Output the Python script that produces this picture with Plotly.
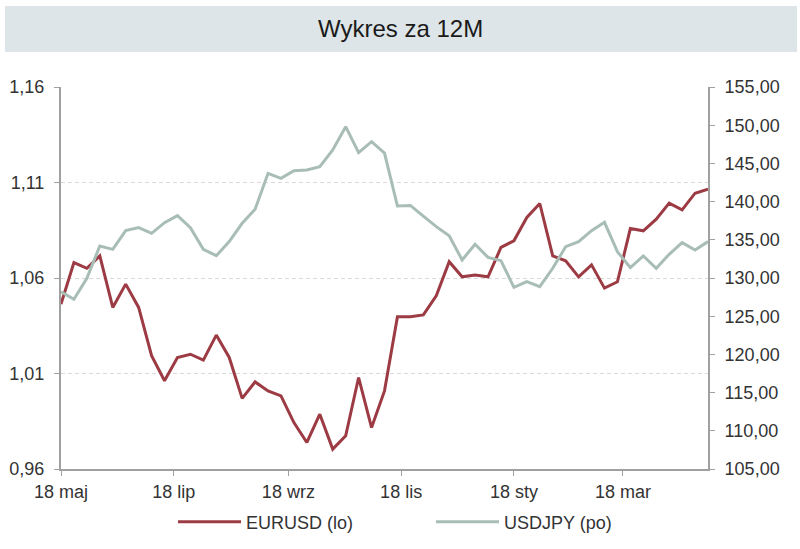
import pandas as pd
import plotly.graph_objects as go

# weekly observations, May 2022 - May 2023
dates = pd.date_range("2022-05-18", periods=51, freq="7D")

eurusd = [1.0463, 1.0681, 1.0651, 1.0716, 1.0446, 1.0568, 1.0446, 1.0193, 1.0062, 1.0184,
          1.0201, 1.0170, 1.0301, 1.0184, 0.9970, 1.0056, 1.0009, 0.9983, 0.9843, 0.9739,
          0.9887, 0.9704, 0.9774, 1.0079, 0.9817, 1.0009, 1.0397, 1.0397, 1.0407, 1.0507,
          1.0685, 1.0606, 1.0615, 1.0606, 1.0760, 1.0795, 1.0917, 1.0990, 1.0716, 1.0690,
          1.0606, 1.0669, 1.0547, 1.0580, 1.0859, 1.0847, 1.0908, 1.0992, 1.0957, 1.1044,
          1.1065]

usdjpy = [128.21, 127.21, 129.96, 134.19, 133.75, 136.20, 136.59, 135.85, 137.24, 138.16,
          136.59, 133.75, 132.92, 134.76, 137.16, 138.99, 143.70, 143.05, 144.05, 144.14,
          144.57, 146.75, 149.81, 146.40, 147.84, 146.35, 139.42, 139.50, 138.10, 136.72,
          135.54, 132.36, 134.41, 132.70, 132.27, 128.78, 129.52, 128.87, 131.27, 134.10,
          134.76, 136.20, 137.29, 133.45, 131.35, 132.88, 131.27, 133.10, 134.62, 133.66,
          134.76]

tick_dates = ["2022-05-18", "2022-07-18", "2022-09-18", "2022-11-18", "2023-01-18", "2023-03-18"]
tick_labels = ["18 maj", "18 lip", "18 wrz", "18 lis", "18 sty", "18 mar"]

title_text = "Wykres za 12M"
names = ["EURUSD (lo)", "USDJPY (po)"]

RED = "#9c3b44"
GRAY = "#a9bdb7"
AXIS = "#a0a0a0"
FONT = "Liberation Sans, Arial, sans-serif"

fig = go.Figure()
fig.add_trace(go.Scatter(x=dates, y=eurusd, name=names[0], mode="lines",
                         line=dict(color=RED, width=3), yaxis="y"))
fig.add_trace(go.Scatter(x=dates, y=usdjpy, name=names[1], mode="lines",
                         line=dict(color=GRAY, width=3), yaxis="y2"))

L, R, T, B = 61, 92, 87, 80
W, H = 800, 549
pw, ph = W - L - R, H - T - B

def px_x(p):
    return (p - L) / pw

def px_y(p):
    return (H - B - p) / ph

fig.add_shape(type="rect", xref="paper", yref="paper",
              x0=px_x(5), x1=px_x(797), y0=px_y(52), y1=px_y(6),
              fillcolor="#dde5e8", line=dict(width=0), layer="below")
fig.add_annotation(text=title_text, xref="paper", yref="paper",
                   x=px_x(400), y=px_y(29), showarrow=False,
                   xanchor="center", yanchor="middle",
                   font=dict(family=FONT, size=24, color="#1a1a1a"))

fig.update_layout(
    width=W, height=H,
    margin=dict(l=L, r=R, t=T, b=B, autoexpand=False),
    paper_bgcolor="white", plot_bgcolor="white",
    separators=", ",
    font=dict(family=FONT, size=18, color="#333333"),
    showlegend=True,
    legend=dict(orientation="h", xref="container", x=(176 - 3) / W, xanchor="left",
                yref="container", y=1 - 522 / H, yanchor="middle",
                font=dict(size=18, color="#333333"), itemwidth=63,
                entrywidth=180, entrywidthmode="pixels", bgcolor="rgba(0,0,0,0)"),
    xaxis=dict(type="date", range=[dates[0], dates[-1]],
               tickvals=tick_dates, ticktext=tick_labels,
               showgrid=False, showline=True, linecolor=AXIS, linewidth=2,
               ticks="outside", ticklen=5, tickcolor=AXIS, tickwidth=1,
               zeroline=False),
    yaxis=dict(range=[0.96, 1.16], tick0=0.96, dtick=0.05, tickformat=".2f",
               showgrid=True, gridcolor="#d9d9d9", griddash="4px,3px", gridwidth=1,
               showline=True, linecolor=AXIS, linewidth=2,
               ticks="outside", ticklen=5, tickcolor=AXIS,
               ticklabelstandoff=6, zeroline=False),
    yaxis2=dict(range=[105, 155], tick0=105, dtick=5, tickformat=".2f",
                overlaying="y", side="right", showgrid=False,
                showline=True, linecolor=AXIS, linewidth=2,
                ticks="outside", ticklen=5, tickcolor=AXIS,
                ticklabelstandoff=6, zeroline=False),
)

fig.write_html("out.html")
